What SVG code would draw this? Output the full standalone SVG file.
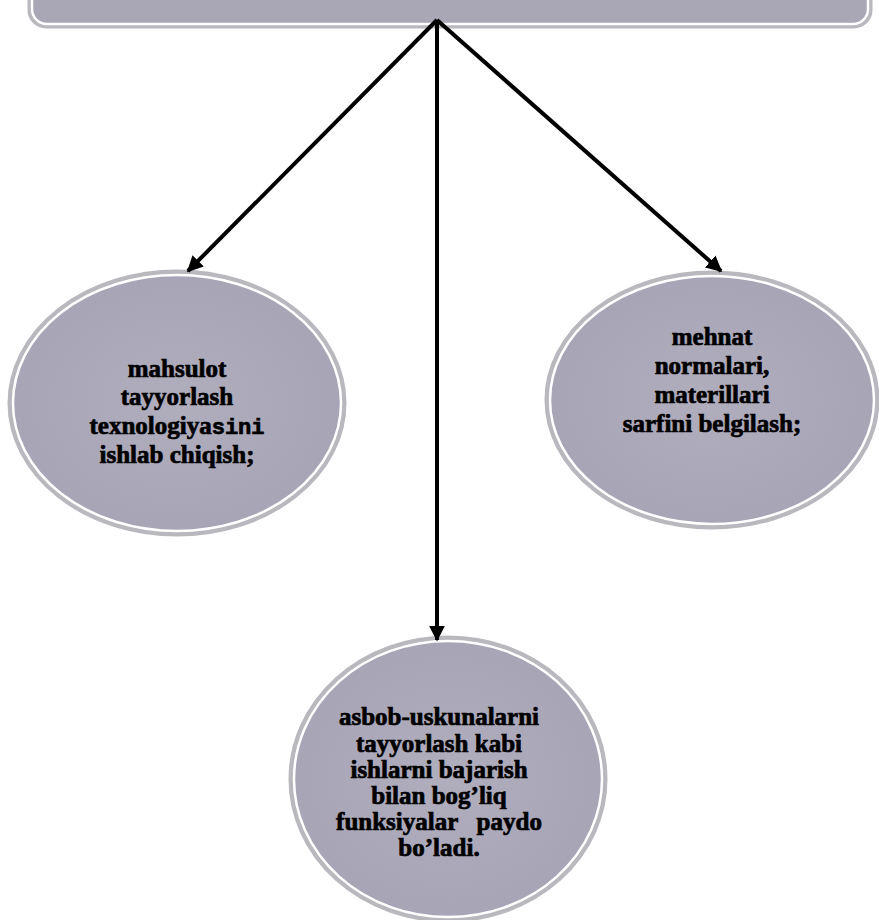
<svg xmlns="http://www.w3.org/2000/svg" width="879" height="920" viewBox="0 0 879 920">
<defs>
<marker id="ah" viewBox="0 0 10 10" refX="9" refY="5" markerWidth="4" markerHeight="4" orient="auto" markerUnits="strokeWidth">
<path d="M0,0 L10,5 L0,10 z" fill="#000"/>
</marker>
<radialGradient id="g" cx="50%" cy="50%" r="60%">
<stop offset="0" stop-color="#b0adbd"/>
<stop offset="1" stop-color="#a6a3b5"/>
</radialGradient>
</defs>
<style>
.shell{fill:none;stroke:#b8b8be;stroke-width:5}
.body{fill:url(#g);stroke:#ffffff;stroke-width:2.5}
.t{font-family:"Liberation Serif","Times New Roman",serif;font-weight:bold;font-size:25px;fill:#000;stroke:#000;stroke-width:0.7;text-anchor:middle}
.c{stroke:#000;stroke-width:4;fill:none;marker-end:url(#ah)}
</style>
<rect width="879" height="920" fill="#ffffff"/>
<g id="top">
<rect x="30" y="-30" width="840" height="56" rx="16" class="shell"/>
<rect x="32" y="-28" width="836" height="52" rx="15" fill="#a9a6b6" stroke="#ffffff" stroke-width="2.5"/>
</g>
<g id="left">
<ellipse cx="177" cy="403" rx="167" ry="131" class="shell"/>
<ellipse cx="177" cy="403" rx="164" ry="128" class="body"/>
<text class="t" x="177" y="377">mahsulot</text>
<text class="t" x="177" y="405">tayyorlash</text>
<text class="t" x="177" y="434">texnologiya<tspan font-family="Liberation Mono, monospace" font-size="22px">sini</tspan></text>
<text class="t" x="177" y="463">ishlab chiqish;</text>
</g>
<g id="right">
<ellipse cx="712" cy="400" rx="165" ry="127" class="shell"/>
<ellipse cx="712" cy="400" rx="162" ry="124" class="body"/>
<text class="t" x="712" y="345">mehnat</text>
<text class="t" x="712" y="374">normalari,</text>
<text class="t" x="712" y="403">materillari</text>
<text class="t" x="712" y="432">sarfini belgilash;</text>
</g>
<g id="bottom">
<ellipse cx="448" cy="779" rx="157" ry="141" class="shell"/>
<ellipse cx="448" cy="779" rx="154" ry="138" class="body"/>
<text class="t" x="439" y="725">asbob-uskunalarni</text>
<text class="t" x="439" y="752">tayyorlash kabi</text>
<text class="t" x="439" y="778">ishlarni bajarish</text>
<text class="t" x="439" y="804">bilan bog’liq</text>
<text class="t" x="439" y="830" xml:space="preserve">funksiyalar   paydo</text>
<text class="t" x="439" y="856">bo’ladi.</text>
</g>
<g id="connectors">
<line class="c" x1="437" y1="20" x2="188" y2="271"/>
<line class="c" x1="437" y1="20" x2="721" y2="271"/>
<line class="c" x1="437" y1="20" x2="437" y2="640"/>
</g>
</svg>
